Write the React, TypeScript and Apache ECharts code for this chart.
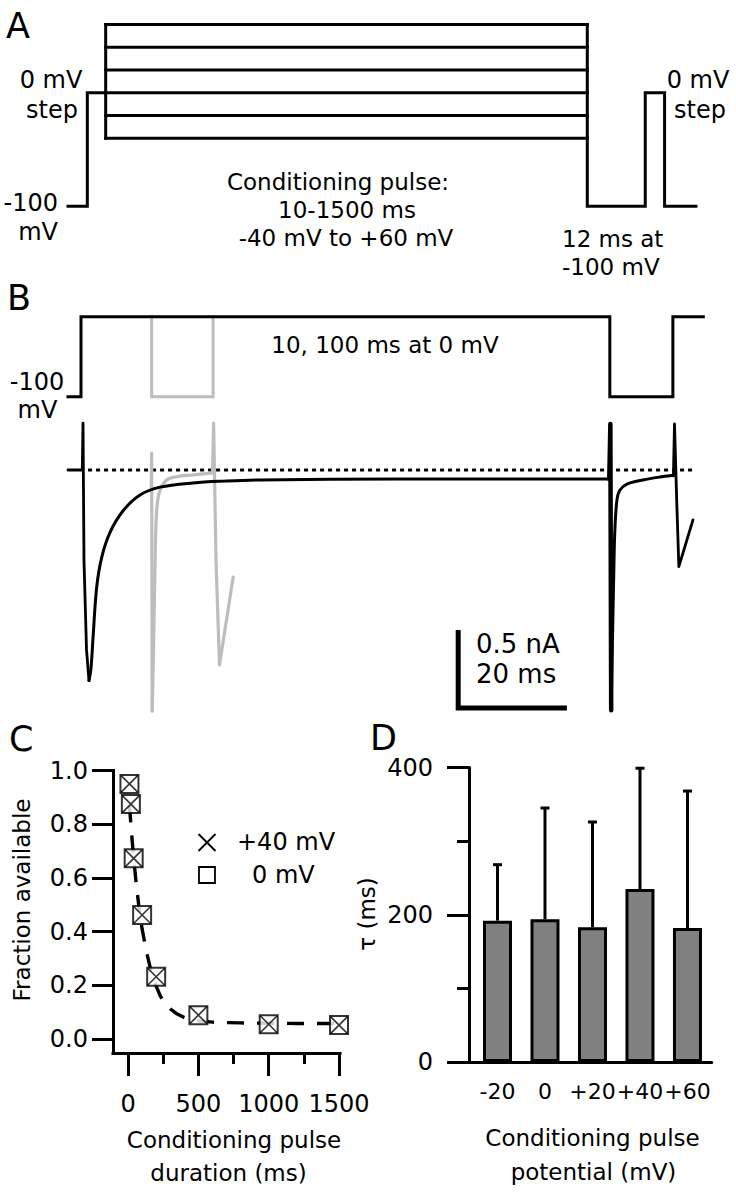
import React, { useEffect, useRef } from 'react';
import * as echarts from 'echarts';

const FONT = 'DejaVu Sans';

// ---------- Panel A: voltage protocol (schematic ms, mV) ----------
const A_HOLD_MV = -100;
const A_STEP_MV = 0;
const A_LEVELS_MV = [-40, -20, 0, 20, 40, 60];
// start, pre-step, conditioning start, conditioning end, test start, test end, end
const A_TIMES_MS = [0, 4, 7.8, 107.5, 119.5, 123.5, 130];

// ---------- Panel B: voltage protocol (ms, mV) ----------
const B_V_BLACK_T = [-2.4, 0, 0, 97.3, 97.3, 108.9, 108.9, 114.5];
const B_V_BLACK_MV = [-100, -100, 0, 0, -100, -100, 0, 0];
const B_V_GRAY_T = [13, 13, 24.3, 24.3];
const B_V_GRAY_MV = [0, -100, -100, 0];

// ---------- Panel B: currents (ms, nA) ----------
// black trace (100 ms conditioning pulse), in pieces: onset, decay, spike, recovery, test
const B_I_BLACK_ONSET_T = [-2.4, 0.24, 0.37, 0.55, 1.01, 1.47];
const B_I_BLACK_ONSET_NA = [0, 0, 0.3, -0.58, -1.15, -1.35];
const B_I_BLACK_DECAY_T = [1.47, 1.84, 2.26, 2.89, 3.81, 5.34, 7.78, 10.86, 14.54, 20.6, 26.8, 32.9, 58.7, 97.2];
const B_I_BLACK_DECAY_NA = [-1.35, -1.27, -1.05, -0.75, -0.56, -0.4, -0.26, -0.16, -0.11, -0.083, -0.071, -0.064, -0.058, -0.058];
const B_I_BLACK_SPIKE_T = [97.2, 97.4, 97.55];
const B_I_BLACK_SPIKE_NA = [-0.058, 0.295, -1.54];
const B_I_BLACK_REC_T = [97.55, 98.07, 98.25, 98.62, 99.17, 100.46, 103.4, 106.5, 108.7];
const B_I_BLACK_REC_NA = [-1.54, -0.58, -0.365, -0.19, -0.128, -0.09, -0.064, -0.045, -0.035];
const B_I_BLACK_TEST_T = [108.7, 109.0, 109.2, 109.6, 110.0, 112.6];
const B_I_BLACK_TEST_NA = [-0.035, -0.038, 0.295, -0.19, -0.62, -0.32];
// gray trace (10 ms conditioning pulse)
const B_I_GRAY_ONSET_T = [12.92, 13.0, 13.1];
const B_I_GRAY_ONSET_NA = [-0.115, 0.109, -1.545];
const B_I_GRAY_REC_T = [13.1, 13.34, 13.62, 13.93, 14.54, 15.77, 17.6, 20.6, 24.2];
const B_I_GRAY_REC_NA = [-1.545, -1.154, -0.615, -0.256, -0.128, -0.064, -0.043, -0.032, -0.019];
const B_I_GRAY_TEST_T = [24.2, 24.4, 24.84, 25.48, 28.0];
const B_I_GRAY_TEST_NA = [-0.019, 0.3, -0.577, -1.25, -0.686];
const B_BASELINE_T = [1.3, 113];
const SCALE_T_MS = 20;
const SCALE_I_NA = 0.5;
const SCALE_ORIGIN = [69.4, -1.526];

// ---------- Panel C ----------
const C_DURATION_MS = [10, 20, 40, 100, 200, 500, 1000, 1500];
const C_FRAC_0MV = [0.95, 0.875, 0.673, 0.462, 0.232, 0.089, 0.055, 0.052];
const C_FRAC_40MV = [0.95, 0.875, 0.673, 0.462, 0.232, 0.089, 0.055, 0.052];
const C_FIT_T = [10, 20, 30, 40, 50, 60, 70, 80, 90, 100, 120, 140, 160, 180, 200, 230, 260, 300, 350, 400, 450, 500, 600, 700, 800, 1000, 1200, 1500];
const C_FIT_V = [0.87, 0.8, 0.735, 0.675, 0.62, 0.57, 0.525, 0.48, 0.445, 0.41, 0.355, 0.305, 0.26, 0.225, 0.197, 0.16, 0.135, 0.112, 0.093, 0.08, 0.072, 0.068, 0.063, 0.061, 0.06, 0.059, 0.058, 0.058];
const C_X_TICKS = [0, 500, 1000, 1500];
const C_X_MINOR = [250, 750, 1250];
const C_Y_TICKS = [0, 0.2, 0.4, 0.6, 0.8, 1.0];

// ---------- Panel D ----------
const D_CATEGORIES = ['-20', '0', '+20', '+40', '+60'];
const D_TAU_MS = [192, 194, 183, 235, 182];
const D_SD_MS = [76, 151, 143, 164, 186];
const D_Y_TICKS = [0, 200, 400];
const D_Y_MINOR = [100, 300];

const zip = (xs: number[], ys: number[]) => xs.map((x, i) => [x, ys[i]]);

const lineS = (data: any[], xi: number, yi: number, color: string, width: number, extra: any = {}) => ({
  type: 'line',
  xAxisIndex: xi,
  yAxisIndex: yi,
  data,
  symbol: 'none',
  silent: true,
  clip: false,
  smooth: extra.smooth ?? false,
  lineStyle: { color, width, cap: 'square', join: 'miter', ...(extra.lineStyle || {}) },
  z: extra.z ?? 2,
});

const hiddenAxis = (gridIndex: number, min: number, max: number) => ({
  type: 'value', gridIndex, min, max, show: false,
  axisLine: { onZero: false }, splitLine: { show: false },
});

const txt = (text: string, x: number, y: number, o: any = {}) => ({
  type: 'text',
  x, y,
  rotation: o.rotation || 0,
  silent: true,
  style: {
    text,
    fontSize: o.size || 23,
    fontFamily: FONT,
    fill: '#000',
    align: o.align || 'center',
    verticalAlign: 'middle',
  },
});

const axisText = { color: '#000', fontSize: 24, fontFamily: FONT };
const blk = { color: '#000', width: 3 };
const roundLS = { cap: 'round', join: 'round' };

function buildOption() {
  const [tStart, tPre, tCond, tCondEnd, tTest, tTestEnd, tEnd] = A_TIMES_MS;
  const vMin = Math.min(...A_LEVELS_MV);
  const vMax = Math.max(...A_LEVELS_MV);

  const series: any[] = [];
  // Panel A
  series.push(lineS([[tStart, A_HOLD_MV], [tPre, A_HOLD_MV], [tPre, A_STEP_MV], [tCond, A_STEP_MV]], 0, 0, '#000', 3));
  series.push(lineS([[tCond, vMin], [tCond, vMax]], 0, 0, '#000', 3));
  A_LEVELS_MV.forEach((v) => series.push(lineS([[tCond, v], [tCondEnd, v]], 0, 0, '#000', 3)));
  series.push(lineS([[tCondEnd, vMax], [tCondEnd, A_HOLD_MV], [tTest, A_HOLD_MV], [tTest, A_STEP_MV], [tTestEnd, A_STEP_MV], [tTestEnd, A_HOLD_MV], [tEnd, A_HOLD_MV]], 0, 0, '#000', 3));

  // Panel B voltage
  series.push(lineS(zip(B_V_GRAY_T, B_V_GRAY_MV), 1, 1, '#bdbdbd', 3, { z: 1 }));
  series.push(lineS(zip(B_V_BLACK_T, B_V_BLACK_MV), 1, 1, '#000', 3, { z: 2 }));

  // Panel B current
  const G = '#bdbdbd';
  series.push(lineS(B_BASELINE_T.map((t) => [t, 0]), 2, 2, '#000', 3, { lineStyle: { type: [4, 4], cap: 'butt' }, z: 1 }));
  series.push(lineS(zip(B_I_GRAY_ONSET_T, B_I_GRAY_ONSET_NA), 2, 2, G, 3.2, { lineStyle: roundLS, z: 2 }));
  series.push(lineS(zip(B_I_GRAY_REC_T, B_I_GRAY_REC_NA), 2, 2, G, 3.2, { lineStyle: roundLS, z: 2, smooth: 0.35 }));
  series.push(lineS(zip(B_I_GRAY_TEST_T, B_I_GRAY_TEST_NA), 2, 2, G, 3.2, { lineStyle: roundLS, z: 2 }));
  series.push(lineS(zip(B_I_BLACK_ONSET_T, B_I_BLACK_ONSET_NA), 2, 2, '#000', 2.8, { lineStyle: roundLS, z: 3 }));
  series.push(lineS(zip(B_I_BLACK_DECAY_T, B_I_BLACK_DECAY_NA), 2, 2, '#000', 3, { lineStyle: roundLS, z: 3, smooth: 0.35 }));
  series.push(lineS(zip(B_I_BLACK_SPIKE_T, B_I_BLACK_SPIKE_NA), 2, 2, '#000', 4.5, { lineStyle: roundLS, z: 3 }));
  series.push(lineS(zip(B_I_BLACK_REC_T, B_I_BLACK_REC_NA), 2, 2, '#000', 3, { lineStyle: roundLS, z: 3, smooth: 0.35 }));
  series.push(lineS(zip(B_I_BLACK_TEST_T, B_I_BLACK_TEST_NA), 2, 2, '#000', 2.8, { lineStyle: roundLS, z: 3 }));
  const [sx, sy] = SCALE_ORIGIN;
  series.push(lineS([[sx, sy + SCALE_I_NA], [sx, sy], [sx + SCALE_T_MS, sy]], 2, 2, '#000', 5, { lineStyle: { cap: 'butt' }, z: 3 }));

  // Panel C
  series.push({
    type: 'line', xAxisIndex: 3, yAxisIndex: 3, data: zip(C_FIT_T, C_FIT_V), symbol: 'none', silent: true,
    lineStyle: { color: '#000', width: 3.4, type: [17, 13] }, z: 2,
  });
  series.push({
    type: 'scatter', name: '0 mV', xAxisIndex: 3, yAxisIndex: 3, data: zip(C_DURATION_MS, C_FRAC_0MV),
    symbol: 'rect', symbolSize: 18, silent: true, clip: false,
    itemStyle: { color: '#fff', borderColor: '#000', borderWidth: 2 }, z: 3,
  });
  series.push({
    type: 'scatter', name: '+40 mV', xAxisIndex: 3, yAxisIndex: 3, data: zip(C_DURATION_MS, C_FRAC_40MV),
    symbol: 'path://M0 0L10 10M10 0L0 10', symbolSize: 17, silent: true, clip: false,
    itemStyle: { color: 'none', borderColor: '#000', borderWidth: 1.6 }, z: 4,
  });

  // Panel D
  series.push({
    type: 'bar', xAxisIndex: 5, yAxisIndex: 4, data: D_TAU_MS.map((v, i) => [i, v]), barWidth: 29, silent: true,
    itemStyle: { color: '#808080', borderColor: '#000', borderWidth: 3 }, z: 2,
  });
  series.push({
    type: 'custom', xAxisIndex: 5, yAxisIndex: 4, silent: true, z: 3,
    data: D_TAU_MS.map((m, i) => [i, m, m + D_SD_MS[i]]),
    encode: { x: 0, y: [1, 2] },
    renderItem: (params: any, api: any) => {
      const x = api.value(0);
      const p0 = api.coord([x, api.value(1)]);
      const p1 = api.coord([x, api.value(2)]);
      const hw = 4.5;
      const st = { stroke: '#000', lineWidth: 3 };
      return {
        type: 'group',
        children: [
          { type: 'line', shape: { x1: p0[0], y1: p0[1], x2: p1[0], y2: p1[1] }, style: st },
          { type: 'line', shape: { x1: p1[0] - hw, y1: p1[1], x2: p1[0] + hw, y2: p1[1] }, style: st },
        ],
      };
    },
  });

  const graphic: any[] = [
    // Panel A
    txt('A', 6, 26, { size: 35, align: 'left' }),
    txt('0 mV', 51, 80, { size: 24 }),
    txt('step', 52, 110, { size: 24 }),
    txt('-100', 58, 203, { align: 'right', size: 24 }),
    txt('mV', 58, 232, { align: 'right', size: 24 }),
    txt('0 mV', 698, 80, { size: 24 }),
    txt('step', 700, 110, { size: 24 }),
    txt('Conditioning pulse:', 338, 182),
    txt('10-1500 ms', 347, 210),
    txt('-40 mV to +60 mV', 346, 238),
    txt('12 ms at', 562, 239, { align: 'left' }),
    txt('-100 mV', 562, 267, { align: 'left' }),
    // Panel B
    txt('B', 7, 298, { size: 35, align: 'left' }),
    txt('-100', 37, 382, { size: 24 }),
    txt('mV', 37.5, 410, { size: 24 }),
    txt('10, 100 ms at 0 mV', 385, 345),
    txt('0.5 nA', 476, 644, { size: 26, align: 'left' }),
    txt('20 ms', 476, 674, { size: 26, align: 'left' }),
    // Panel C
    txt('C', 9, 739, { size: 35, align: 'left' }),
    txt('Fraction available', 21.5, 900, { rotation: Math.PI / 2 }),
    txt('Conditioning pulse', 234, 1140),
    txt('duration (ms)', 228.5, 1173),
    {
      type: 'group', silent: true,
      children: [
        { type: 'line', shape: { x1: 198.5, y1: 834, x2: 215.5, y2: 851 }, style: { stroke: '#000', lineWidth: 1.8 } },
        { type: 'line', shape: { x1: 215.5, y1: 834, x2: 198.5, y2: 851 }, style: { stroke: '#000', lineWidth: 1.8 } },
        { type: 'rect', shape: { x: 199, y: 867, width: 16, height: 16 }, style: { stroke: '#000', fill: 'none', lineWidth: 1.8 } },
      ],
    },
    txt('+40 mV', 237, 842, { align: 'left', size: 24 }),
    txt('0 mV', 252, 875, { align: 'left', size: 24 }),
    // Panel D
    txt('D', 370, 738, { size: 35, align: 'left' }),
    txt('τ (ms)', 367, 914, { rotation: Math.PI / 2 }),
    txt('Conditioning pulse', 592.5, 1138),
    txt('potential (mV)', 593.5, 1172),
  ];

  return {
    animation: false,
    backgroundColor: '#fff',
    textStyle: { fontFamily: FONT },
    grid: [
      { left: 58.34, top: 13.16, width: 647.3, height: 204.53, outerBoundsMode: 'none' },
      { left: 59.26, top: 308.7, width: 652.2, height: 96, outerBoundsMode: 'none' },
      { left: 59.26, top: 407.6, width: 652.2, height: 327.6, outerBoundsMode: 'none' },
      { left: 113, top: 770.5, width: 227, height: 282.5, outerBoundsMode: 'none' },
      { left: 469, top: 767.5, width: 242.7, height: 294.5, outerBoundsMode: 'none' },
    ],
    xAxis: [
      hiddenAxis(0, -2, 132),
      hiddenAxis(1, -4, 116),
      hiddenAxis(2, -4, 116),
      {
        type: 'value', gridIndex: 3, min: -107, max: 1507, position: 'bottom',
        axisLine: { show: true, onZero: false, lineStyle: { ...blk, cap: 'square' } },
        axisTick: { show: true, length: 23, lineStyle: blk, customValues: C_X_TICKS },
        axisLabel: { show: true, customValues: C_X_TICKS, margin: 39, ...axisText, formatter: (v: number) => String(v) },
        splitLine: { show: false },
      },
      {
        type: 'value', gridIndex: 3, min: -107, max: 1507, position: 'bottom',
        axisLine: { show: false, onZero: false },
        axisTick: { show: true, length: 11, lineStyle: blk, customValues: C_X_MINOR },
        axisLabel: { show: false },
        splitLine: { show: false },
      },
      {
        type: 'value', gridIndex: 4, min: -0.6, max: 4.51, position: 'bottom',
        axisLine: { show: true, onZero: false, lineStyle: blk },
        axisTick: { show: false },
        axisLabel: {
          show: true, customValues: D_CATEGORIES.map((_, i) => i), margin: 18, ...axisText, fontSize: 22,
          hideOverlap: false,
          formatter: (v: number) => D_CATEGORIES[Math.round(v)] ?? '',
        },
        splitLine: { show: false },
      },
    ],
    yAxis: [
      hiddenAxis(0, -110, 70),
      hiddenAxis(1, -110, 10),
      hiddenAxis(2, -1.7, 0.4),
      {
        type: 'value', gridIndex: 3, min: -0.052, max: 1, position: 'left',
        axisLine: { show: true, onZero: false, lineStyle: { ...blk, cap: 'square' } },
        axisTick: { show: true, length: 21, lineStyle: blk, customValues: C_Y_TICKS },
        axisLabel: { show: true, customValues: C_Y_TICKS, margin: 25, ...axisText, formatter: (v: number) => v.toFixed(1) },
        splitLine: { show: false },
      },
      {
        type: 'value', gridIndex: 4, min: 0, max: 400, position: 'left',
        axisLine: { show: true, onZero: false, lineStyle: blk },
        axisTick: { show: true, length: 22, lineStyle: blk, customValues: D_Y_TICKS },
        axisLabel: { show: true, customValues: D_Y_TICKS, margin: 36, ...axisText, formatter: (v: number) => String(v) },
        splitLine: { show: false },
      },
      {
        type: 'value', gridIndex: 4, min: 0, max: 400, position: 'left',
        axisLine: { show: false, onZero: false },
        axisTick: { show: true, length: 12, lineStyle: blk, customValues: D_Y_MINOR },
        axisLabel: { show: false },
        splitLine: { show: false },
      },
    ],
    series,
    graphic,
  };
}

export default function App() {
  const ref = useRef<HTMLDivElement>(null);
  useEffect(() => {
    document.body.style.margin = '0';
    const chart = echarts.init(ref.current as HTMLDivElement, null, { renderer: 'svg' });
    chart.setOption(buildOption() as any);
    return () => chart.dispose();
  }, []);
  return <div ref={ref} style={{ width: 736, height: 1199, background: '#fff' }} />;
}
